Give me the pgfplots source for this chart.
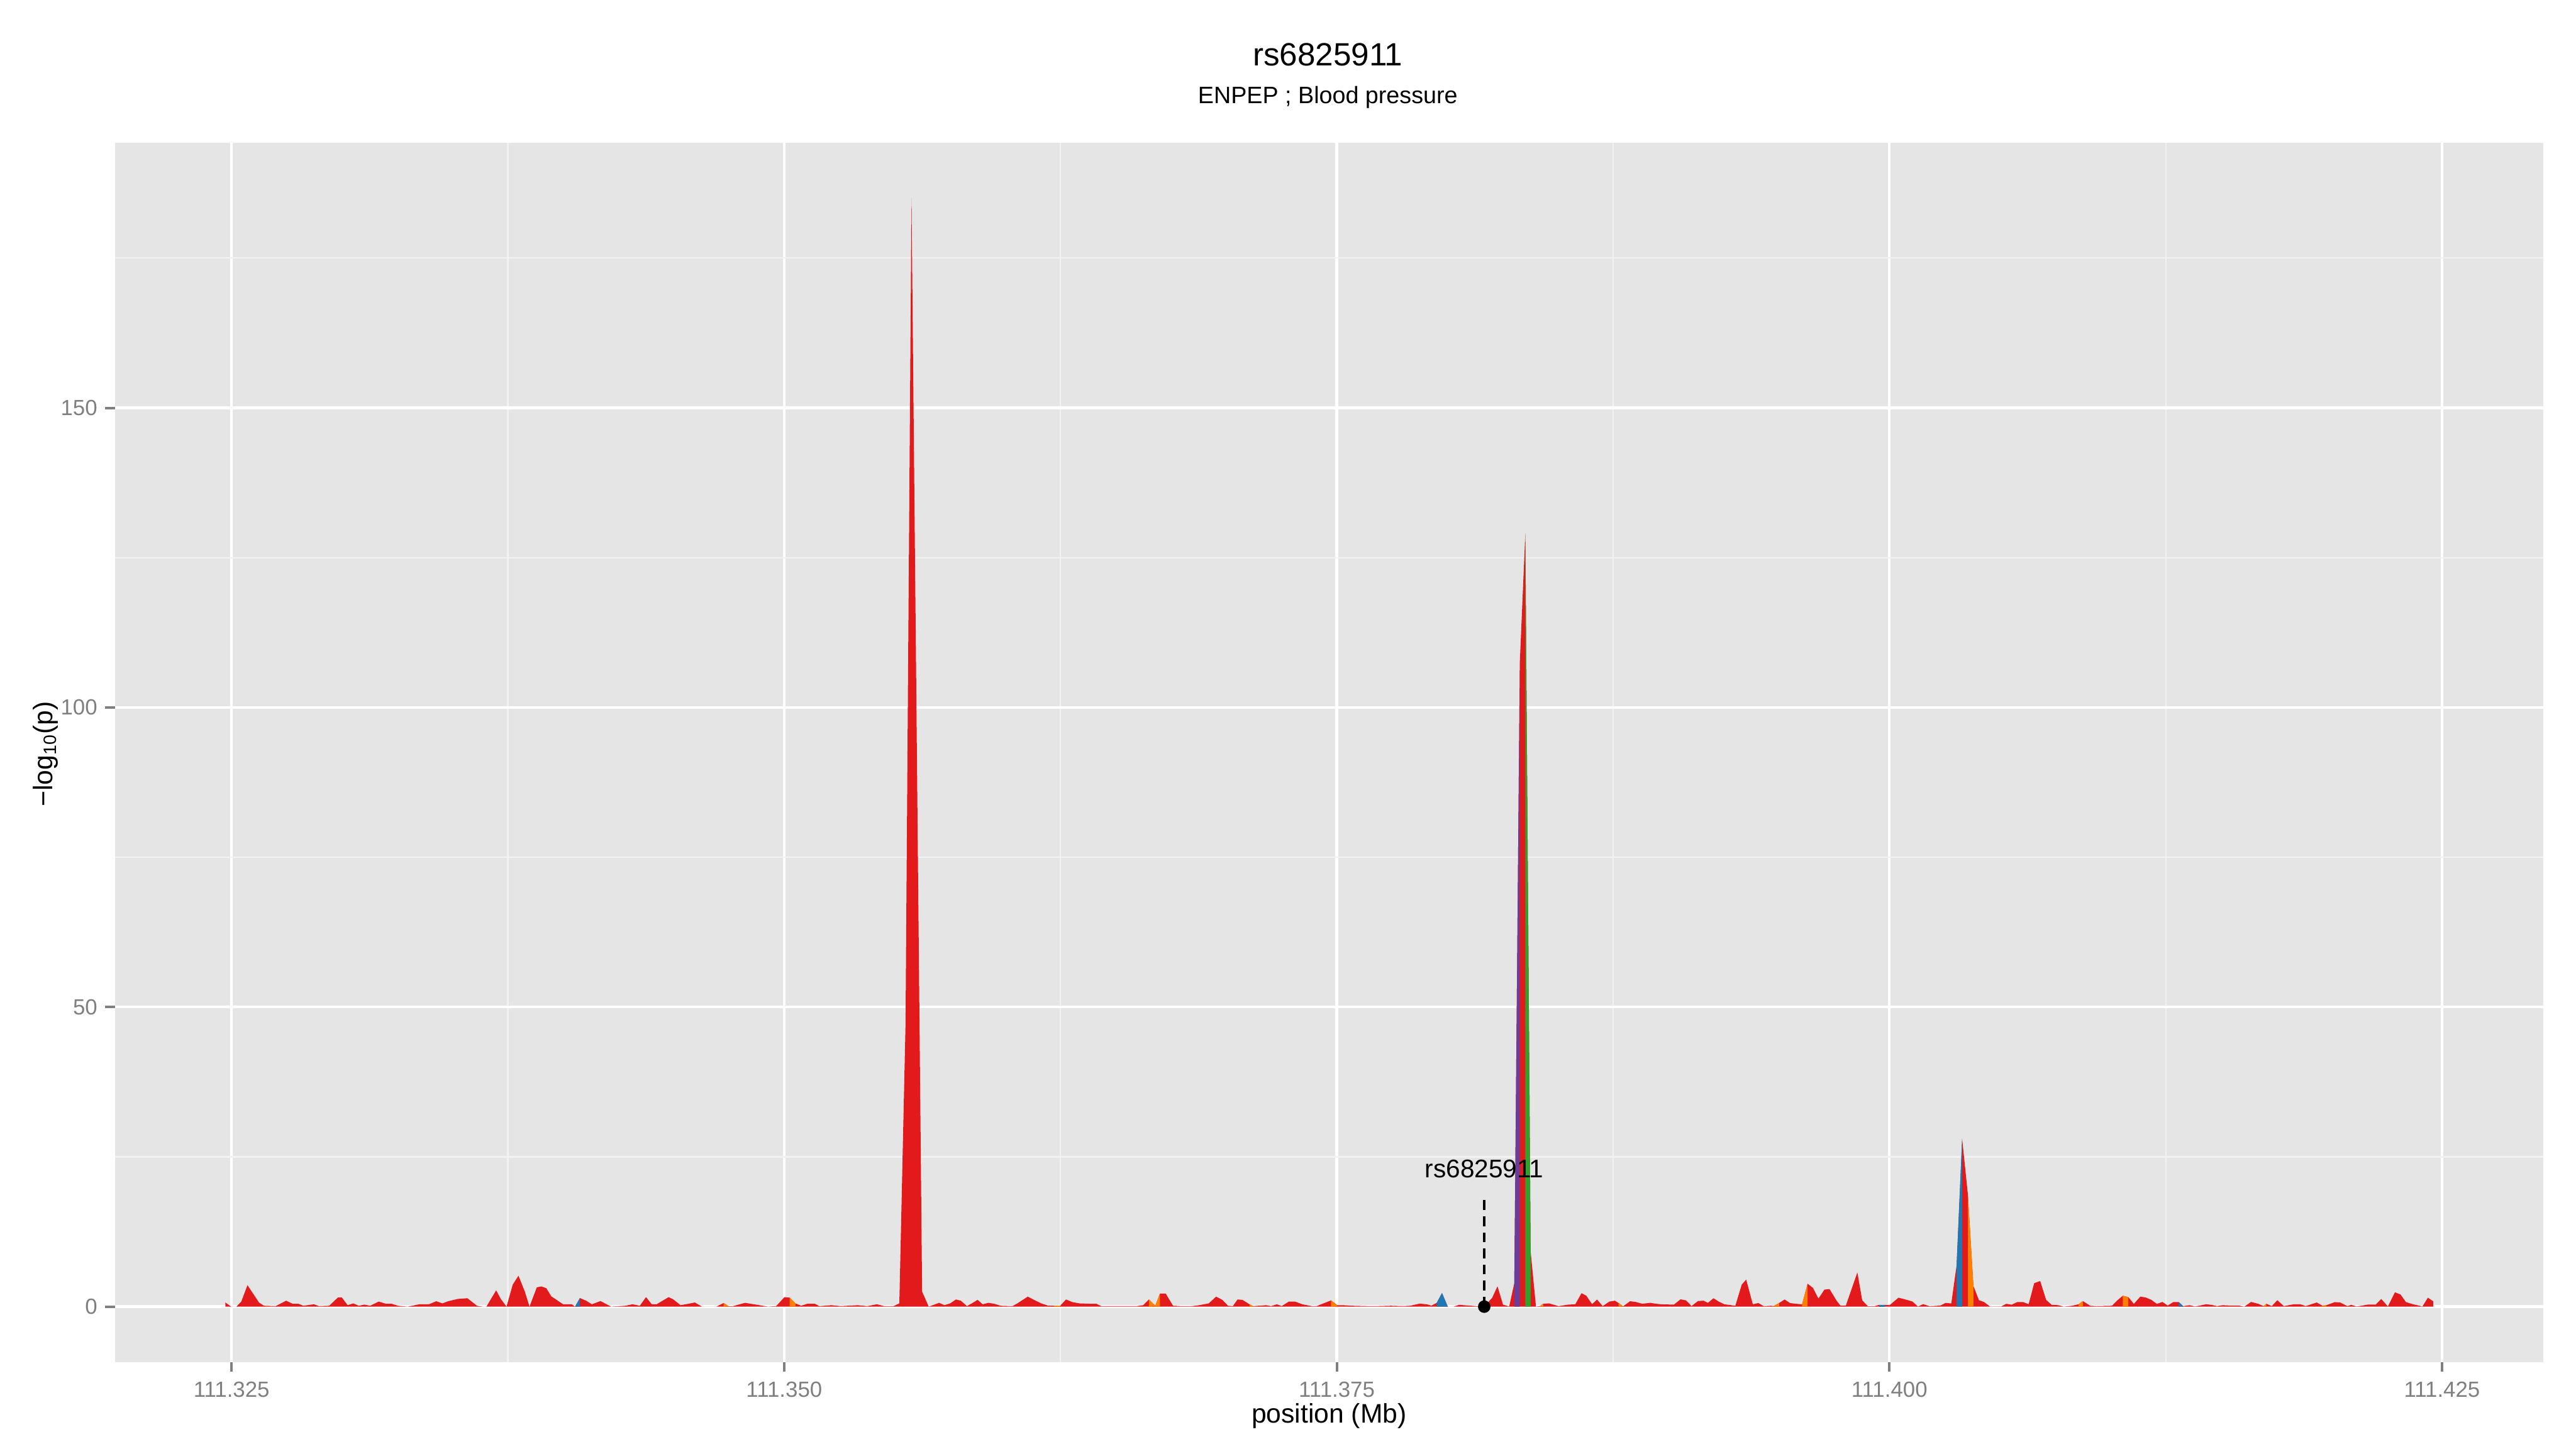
\documentclass[border=0pt]{standalone}
\usepackage{fontspec}
\setmainfont{Liberation Sans}
\usepackage{pgfplots}
\usepackage{pgfplotstable}
\pgfplotsset{compat=1.18}
\definecolor{ggbg}{HTML}{E5E5E5}
\definecolor{ggminor}{HTML}{F2F2F2}
\definecolor{gg50}{HTML}{7F7F7F}
\definecolor{cred}{HTML}{E31A1C}
\definecolor{cblue}{HTML}{1F78B4}
\definecolor{cgreen}{HTML}{33A02C}
\definecolor{cpurple}{HTML}{6A3D9A}
\definecolor{corange}{HTML}{FF7F00}

% x = (position in Mb - 111.3) * 1000 (kb), y = -log10(p)
\pgfplotstableread{
x y
24.72 0.69
24.98 0
25.22 0
25.44 0.84
25.72 3.58
26.24 0.69
26.46 0.15
27.00 0.09
27.47 0.99
27.76 0.48
28.02 0.48
28.25 0.15
28.73 0.39
28.95 0.09
29.42 0.15
29.81 1.52
29.99 1.52
30.25 0.24
30.51 0.54
30.75 0.15
31.01 0.33
31.27 0.15
31.66 0.84
31.98 0.48
32.24 0.48
32.52 0.15
32.96 0
33.50 0.39
33.93 0.39
34.26 0.90
34.54 0.54
34.80 0.90
35.23 1.28
35.67 1.40
36.10 0.15
36.36 0
36.53 0
36.97 2.72
37.18 1.28
37.44 0
37.72 3.67
37.98 5.16
38.27 2.48
38.48 0
38.81 3.22
39.02 3.37
39.24 3.07
39.46 1.73
40.00 0.39
40.39 0.39
40.54 0
40.76 1.43
41.04 0.99
41.30 0.39
41.69 0.93
42.17 0
42.82 0.15
43.14 0.39
43.47 0.15
43.75 1.58
44.01 0.39
44.23 0.39
44.77 1.58
44.98 1.22
45.31 0.24
45.63 0.45
45.96 0.69
46.28 0
46.93 0
47.26 0.60
47.48 0.09
47.69 0.09
48.23 0.63
48.88 0.24
49.27 0
49.64 0.09
50.01 1.58
50.25 1.50
50.51 0.54
50.77 0.15
51.05 0.48
51.38 0.48
51.59 0.09
52.14 0.24
52.57 0.09
53.33 0.24
53.76 0.09
54.19 0.39
54.52 0.09
54.95 0.09
55.21 0.54
55.49 47
55.76 185
56.24 2.5
56.54 0
57.01 0.63
57.25 0.24
57.51 0.54
57.77 1.19
57.99 0.99
58.27 0.09
58.49 0.54
58.75 1.13
58.98 0.39
59.24 0.63
59.50 0.48
59.79 0.15
60.33 0.09
60.55 0.54
61.02 1.67
61.30 1.13
61.63 0.54
61.95 0.15
62.20 0.15
62.49 0.15
62.75 1.19
63.04 0.75
63.36 0.54
63.84 0.48
64.12 0.48
64.34 0.09
65.31 0.09
65.96 0.09
66.24 0.24
66.50 1.19
66.79 0.15
67.00 2.18
67.26 2.18
67.59 0.15
67.91 0.09
68.45 0.09
68.78 0.24
69.21 0.54
69.54 1.67
69.82 1.13
70.08 0.15
70.30 0.09
70.51 1.19
70.73 1.13
71.05 0.39
71.21 0.09
71.81 0.24
72.03 0.09
72.29 0.39
72.51 0.09
72.83 0.84
73.11 0.84
73.44 0.39
73.87 0.09
74.09 0.09
74.74 1.04
75.02 0.24
75.28 0.24
75.71 0.15
76.36 0.09
76.91 0.09
77.45 0.15
77.99 0.09
78.32 0.15
78.75 0.50
79.07 0.39
79.28 0.17
79.52 0.62
79.76 2.27
80.02 0
80.29 0
80.53 0.30
81.26 0.10
81.67 0
82.03 1.48
82.27 3.39
82.52 0.33
82.80 0.03
83.03 3.9
83.28 107.5
83.53 129.1
83.77 9.2
84.01 0
84.20 0.10
84.34 0.48
84.60 0.54
85.03 0.09
85.47 0.33
85.79 0.39
86.07 2.24
86.29 1.82
86.55 0.39
86.77 1.19
87.03 0.09
87.33 0.84
87.58 0.99
87.75 0.60
87.95 0.05
88.27 0.90
88.52 0.78
88.82 0.48
89.19 0.63
89.44 0.48
89.68 0.39
90.25 0.33
90.55 1.22
90.80 1.04
91.05 0.09
91.34 0.93
91.59 0.99
91.79 0.63
92.04 1.40
92.28 0.84
92.53 0.39
93.03 0.15
93.32 3.67
93.52 4.51
93.82 0.39
94.07 0.60
94.31 0.09
94.64 0.15
94.76 0.10
95.01 0.60
95.26 1.19
95.50 0.60
95.75 0.48
96.05 0.39
96.30 3.82
96.54 3.13
96.79 1.34
97.06 2.84
97.29 2.93
97.61 0.99
97.78 0.18
98.03 0.18
98.55 5.70
98.77 1.04
99.02 0.09
99.34 0.09
99.54 0.30
99.79 0.30
100.01 0.24
100.41 1.49
100.70 1.22
101.04 0.86
101.29 0.02
101.53 0.41
101.81 0.08
102.30 0.17
102.54 0.62
102.80 0.53
103.04 6.89
103.29 28.02
103.55 18.7
103.80 3.46
104.05 1.07
104.28 0.77
104.55 0.02
105.05 0.02
105.29 0.47
105.53 0.32
105.79 0.77
106.04 0.77
106.30 0.41
106.55 3.91
106.82 4.27
107.09 1.13
107.34 0.30
107.64 0.24
107.89 0
108.26 0.15
108.56 0.39
108.75 0.93
109.08 0.15
109.37 0.09
110.07 0.15
110.31 1.04
110.56 1.82
110.81 1.58
111.06 0.45
111.35 1.67
111.60 1.52
111.85 1.13
112.10 0.45
112.35 0.78
112.59 0.18
112.84 0.75
113.09 0.75
113.29 0.09
113.58 0.24
113.83 0.03
114.33 0.39
114.57 0.30
114.82 0.09
115.07 0.24
115.44 0.18
115.81 0.18
116.06 0
116.36 0.78
116.68 0.48
116.93 0.09
117.05 0.48
117.30 0.09
117.55 1.07
117.84 0.09
118.29 0.39
118.59 0.39
118.83 0.09
119.33 0.69
119.58 0.18
119.77 0.24
120.15 0.75
120.39 0.69
120.72 0.09
120.89 0.30
121.14 0.03
121.63 0.33
122.00 0.33
122.25 1.28
122.55 0.03
122.87 2.39
123.12 2.03
123.37 0.75
123.69 0.39
123.99 0.15
124.11 0
124.36 1.49
124.60 0.90
}\snpdata

\begin{document}
\begin{tikzpicture}
\useasboundingbox (0,0) rectangle (1152pt,648pt);
\begin{axis}[
  at={(51.36pt,38.88pt)}, anchor=south west,
  scale only axis, width=1086pt, height=545.28pt,
  xmin=19.72, xmax=129.58, ymin=-9.25, ymax=194.25,
  axis background/.style={fill=ggbg},
  axis line style={draw=none},
  xtick={25,50,75,100,125},
  xticklabels={111.325,111.350,111.375,111.400,111.425},
  ytick={0,50,100,150},
  yticklabels={0,50,100,150},
  minor xtick={37.5,62.5,87.5,112.5},
  minor ytick={25,75,125,175},
  grid=both,
  major grid style={white, line width=1.2pt},
  minor grid style={ggminor, line width=0.6pt},
  tick pos=left, tick align=outside,
  major tick length=4.3pt, minor tick length=0pt,
  tick style={gg50, line width=1.1pt},
  ticklabel style={font=\fontsize{9.8}{11}\selectfont, text=gg50},
  xticklabel style={yshift=-1pt},
]
\addplot[fill=cred, draw=none] table {\snpdata} \closedcycle;
% coloured segments
\addplot[fill=cblue, draw=none] coordinates {(40.54,0)(40.76,1.43)} \closedcycle;
\addplot[fill=corange, draw=none] coordinates {(47.26,0.60)(47.48,0.09)} \closedcycle;
\addplot[fill=corange, draw=none] coordinates {(50.25,1.50)(50.51,0.54)} \closedcycle;
\addplot[fill=corange, draw=none] coordinates {(62.20,0.15)(62.49,0.15)} \closedcycle;
\addplot[fill=corange, draw=none] coordinates {(66.50,1.19)(66.79,0.15)(67.00,2.18)} \closedcycle;
\addplot[fill=corange, draw=none] coordinates {(71.05,0.39)(71.21,0.09)} \closedcycle;
\addplot[fill=corange, draw=none] coordinates {(74.74,1.04)(75.02,0.24)} \closedcycle;
\addplot[fill=cblue, draw=none] coordinates {(79.52,0.62)(79.76,2.27)(80.02,0)} \closedcycle;
\addplot[fill=cpurple, draw=none] coordinates {(83.03,3.9)(83.28,107.5)} \closedcycle;
\addplot[fill=cgreen, draw=none] coordinates {(83.53,129.1)(83.77,9.2)} \closedcycle;
\addplot[fill=corange, draw=none] coordinates {(84.20,0.10)(84.34,0.48)} \closedcycle;
\addplot[fill=corange, draw=none] coordinates {(87.75,0.60)(87.95,0.05)} \closedcycle;
\addplot[fill=corange, draw=none] coordinates {(94.76,0.10)(95.01,0.60)} \closedcycle;
\addplot[fill=corange, draw=none] coordinates {(96.05,0.39)(96.30,3.82)} \closedcycle;
\addplot[fill=cblue, draw=none] coordinates {(99.54,0.30)(99.79,0.30)} \closedcycle;
\addplot[fill=cblue, draw=none] coordinates {(103.04,6.89)(103.29,28.02)} \closedcycle;
\addplot[fill=corange, draw=none] coordinates {(103.55,18.7)(103.80,3.46)} \closedcycle;
\addplot[fill=corange, draw=none] coordinates {(108.56,0.39)(108.75,0.93)} \closedcycle;
\addplot[fill=corange, draw=none] coordinates {(110.56,1.82)(110.81,1.58)} \closedcycle;
\addplot[fill=cblue, draw=none] coordinates {(113.09,0.75)(113.29,0.09)} \closedcycle;
\addplot[fill=corange, draw=none] coordinates {(116.93,0.09)(117.05,0.48)} \closedcycle;
\addplot[fill=corange, draw=none] coordinates {(119.58,0.18)(119.77,0.24)} \closedcycle;
% annotation of rs6825911
\addplot[black, line width=1.1pt, dash pattern=on 4.4pt off 2.8pt] coordinates {(81.67,0)(81.67,18.4)};
\addplot[only marks, mark=*, mark size=2.6pt, black] coordinates {(81.67,0)};
\node[anchor=base, font=\fontsize{11.4}{13}\selectfont] at (axis cs:81.67,21.5) {rs6825911};
\end{axis}
\node[anchor=base, font=\fontsize{14.4}{16}\selectfont] at (593.8pt,618.5pt) {rs6825911};
\node[anchor=base, font=\fontsize{10.6}{13}\selectfont] at (593.8pt,601.6pt) {ENPEP ; Blood pressure};
\node[anchor=base, font=\fontsize{12}{14}\selectfont] at (594.4pt,11.8pt) {position (Mb)};
\node[anchor=base, rotate=90, font=\fontsize{12}{14}\selectfont] at (23.4pt,310.8pt) {−log\textsubscript{10}(p)};
\end{tikzpicture}
\end{document}
